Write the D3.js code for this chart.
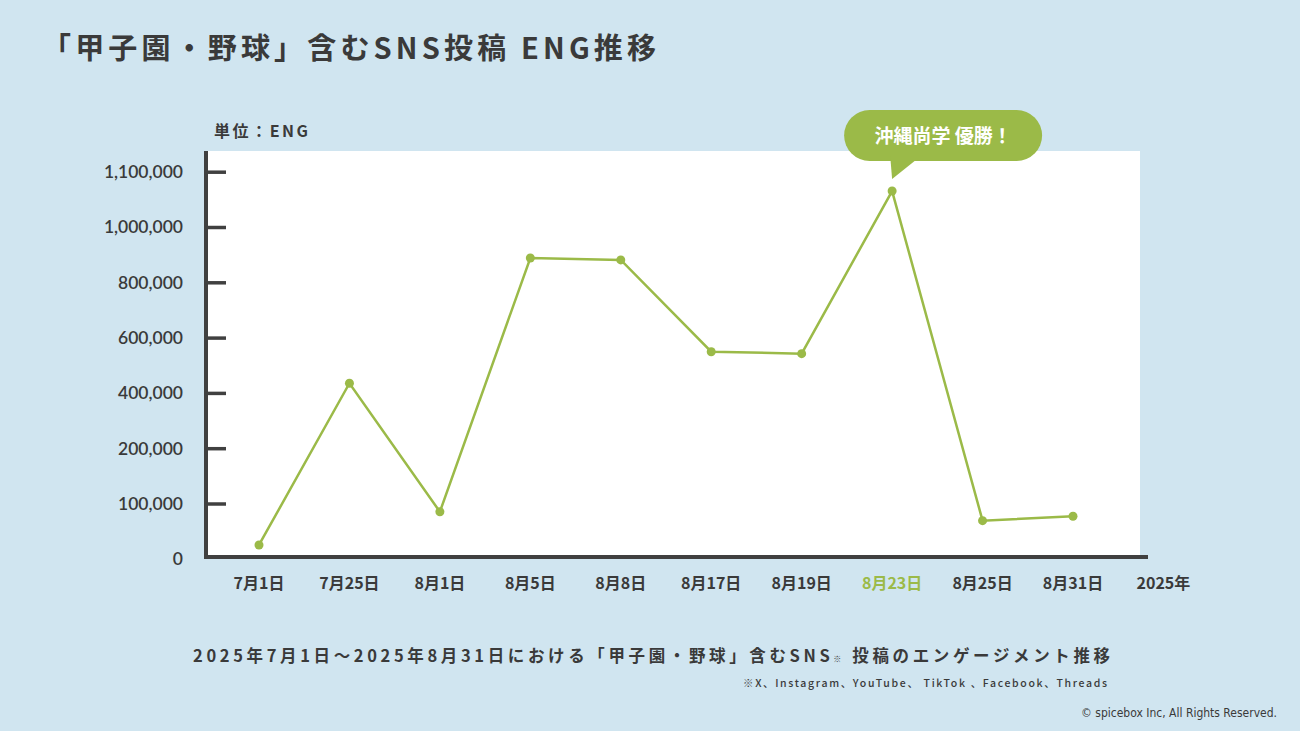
<!DOCTYPE html>
<html>
<head>
<meta charset="utf-8">
<script src="https://cdn.jsdelivr.net/npm/d3@7"></script>
<style>
  html, body { margin: 0; padding: 0; background: #d0e5f0; }
  #chart { width: 1300px; height: 731px; }
</style>
</head>
<body>
<div id="chart"></div>
<script>
// data
const dates = ["7月1日", "7月25日", "8月1日", "8月5日", "8月8日", "8月17日", "8月19日", "8月23日", "8月25日", "8月31日"];
const engagement = [25000, 435000, 85000, 888000, 881000, 549000, 542000, 1065000, 69000, 77000];
const yTicks = [0, 100000, 200000, 400000, 600000, 800000, 1000000, 1100000];
const highlightDate = "8月23日";
const calloutText = "沖縄尚学 優勝！";

const width = 1300, height = 731;
const green = "#9bba48";
const ink = "#3a3a3a";
const jp = "'Noto Sans CJK JP', 'Noto Sans', sans-serif";
const num = "Lato, 'Noto Sans', sans-serif";

const svg = d3.select("#chart").append("svg")
    .attr("width", width)
    .attr("height", height);

svg.append("rect").attr("width", width).attr("height", height).attr("fill", "#d0e5f0");

// title
svg.append("text")
    .attr("x", 42).attr("y", 59)
    .attr("font-family", jp).attr("font-size", 29).attr("font-weight", 700)
    .attr("fill", ink)
    .attr("textLength", 614).attr("lengthAdjust", "spacing")
    .text("「甲子園・野球」含むSNS投稿 ENG推移");

// plot frame
const axisX = 206, plotRight = 1140, plotTop = 151, axisY = 557;
const yBottom = 558.8, yStep = 55.3;

// evenly spaced ticks with uneven values -> polylinear scale
const y = d3.scaleLinear()
    .domain(yTicks)
    .range(yTicks.map((d, i) => yBottom - i * yStep));

const x = d3.scalePoint()
    .domain(dates)
    .range([259, 1073]);

svg.append("rect")
    .attr("x", axisX).attr("y", plotTop)
    .attr("width", plotRight - axisX).attr("height", axisY - plotTop)
    .attr("fill", "#fff");

svg.append("text")
    .attr("x", 214).attr("y", 137)
    .attr("font-family", jp).attr("font-size", 16).attr("font-weight", 700)
    .attr("fill", ink)
    .attr("textLength", 94).attr("lengthAdjust", "spacing")
    .text("単位：ENG");

// y axis
const yAxis = svg.append("g")
    .attr("transform", `translate(${axisX},0)`)
    .call(d3.axisRight(y).tickValues(yTicks.slice(1)).tickSize(20).tickFormat(""))
    .call(g => g.select(".domain").remove());
yAxis.selectAll(".tick line").attr("stroke", "#404040").attr("stroke-width", 3.5);

svg.append("line")
    .attr("x1", axisX).attr("x2", axisX)
    .attr("y1", plotTop).attr("y2", axisY + 2)
    .attr("stroke", "#404040").attr("stroke-width", 4);

svg.append("g")
    .selectAll("text")
    .data(yTicks)
    .join("text")
    .attr("x", 183)
    .attr("y", d => y(d))
    .attr("dy", "0.36em")
    .attr("text-anchor", "end")
    .attr("font-family", num).attr("font-size", 17.5).attr("font-weight", 600)
    .attr("fill", ink)
    .text(d => d3.format(",")(d));

// x axis
svg.append("line")
    .attr("x1", axisX - 2).attr("x2", 1148)
    .attr("y1", axisY).attr("y2", axisY)
    .attr("stroke", "#404040").attr("stroke-width", 4);

svg.append("g")
    .selectAll("text")
    .data(dates)
    .join("text")
    .attr("x", d => x(d))
    .attr("y", 589)
    .attr("text-anchor", "middle")
    .attr("font-family", jp).attr("font-size", 16).attr("font-weight", 700)
    .attr("fill", d => d === highlightDate ? green : ink)
    .text(d => d);

svg.append("text")
    .attr("x", x(dates[dates.length - 1]) + x.step())
    .attr("y", 589)
    .attr("text-anchor", "middle")
    .attr("font-family", jp).attr("font-size", 16).attr("font-weight", 700)
    .attr("fill", ink)
    .text("2025年");

// line + points
const pts = dates.map((d, i) => ({ date: d, value: engagement[i] }));

svg.append("path")
    .datum(pts)
    .attr("fill", "none")
    .attr("stroke", green)
    .attr("stroke-width", 2.5)
    .attr("d", d3.line().x(d => x(d.date)).y(d => y(d.value)));

svg.append("g")
    .selectAll("circle")
    .data(pts)
    .join("circle")
    .attr("cx", d => x(d.date))
    .attr("cy", d => y(d.value))
    .attr("r", 4.5)
    .attr("fill", green);

// callout
const peak = pts.find(d => d.date === highlightDate);
const px = x(peak.date), py = y(peak.value);
const bubble = svg.append("g");
bubble.append("rect")
    .attr("x", px - 48).attr("y", py - 81)
    .attr("width", 198).attr("height", 51)
    .attr("rx", 25.5)
    .attr("fill", green);
bubble.append("path")
    .attr("d", `M${px - 2},${py - 36} L${px + 30},${py - 36} L${px},${py - 12} Z`)
    .attr("fill", green);
bubble.append("text")
    .attr("x", px + 51).attr("y", py - 55)
    .attr("dy", "0.36em")
    .attr("text-anchor", "middle")
    .attr("font-family", jp).attr("font-size", 19).attr("font-weight", 700)
    .attr("fill", "#fff")
    .text(calloutText);

// footer
const caption = svg.append("text")
    .attr("x", 193).attr("y", 662)
    .attr("font-family", jp).attr("font-size", 16.5).attr("font-weight", 700)
    .attr("fill", ink)
    .attr("textLength", 917).attr("lengthAdjust", "spacing");
caption.append("tspan").text("2025年7月1日～2025年8月31日における「甲子園・野球」含むSNS");
caption.append("tspan").attr("font-size", 8).text("※");
caption.append("tspan").text(" 投稿のエンゲージメント推移");

svg.append("text")
    .attr("x", 743).attr("y", 687)
    .attr("font-family", jp).attr("font-size", 10.5).attr("font-weight", 500)
    .attr("fill", ink)
    .attr("textLength", 364).attr("lengthAdjust", "spacing")
    .text("※X、Instagram、YouTube、 TikTok 、Facebook、Threads");

svg.append("text")
    .attr("x", 1277).attr("y", 717)
    .attr("text-anchor", "end")
    .attr("font-family", "'Liberation Sans Narrow', 'DejaVu Sans Condensed', sans-serif").attr("font-size", 12)
    .attr("fill", ink)
    .text("© spicebox Inc, All Rights Reserved.");
</script>
</body>
</html>
